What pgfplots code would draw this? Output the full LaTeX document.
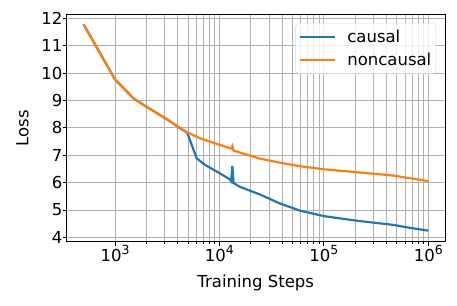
\documentclass[border=0pt]{standalone}
\usepackage{pgfplots}
\pgfplotsset{compat=1.18}
\usepackage{fontspec}
\setmainfont{DejaVu Sans}
\definecolor{mplblue}{HTML}{1F77B4}
\definecolor{mplorange}{HTML}{FF7F0E}
\newcommand\ex[1]{10\raisebox{7pt}{\fontsize{12.5}{14}\selectfont #1}}
\pgfplotstableread{
x y
500 11.78
1000 9.77
1500 9.08
2000 8.77
3130 8.32
4190 7.99
4920 7.84
6510 7.62
10100 7.38
12600 7.26
12950 7.25
13300 7.34
13650 7.17
15700 7.10
24400 6.88
38000 6.73
59100 6.60
100000 6.49
209000 6.38
464000 6.26
623000 6.18
1000000 6.06
}\noncausal
\pgfplotstableread{
x y
500 11.78
1000 9.77
1500 9.08
2000 8.77
3130 8.32
4190 7.99
4920 7.82
6050 6.89
7280 6.65
10100 6.34
12600 6.12
12950 6.06
13300 6.61
13650 5.99
15700 5.85
24400 5.57
38000 5.24
59100 4.98
100000 4.78
209000 4.61
464000 4.46
623000 4.37
1000000 4.25
}\causal
\begin{document}
\begin{tikzpicture}
\begin{semilogxaxis}[
  at={(0,0)}, anchor=south west,
  scale only axis, width=378.5pt, height=226.8pt,
  xmin=343.2, xmax=1445000, ymin=3.854, ymax=12.13,
  xtick={1000,10000,100000,1000000},
  xticklabels={\ex{3},\ex{4},\ex{5},\ex{6}},
  ytick={4,5,6,7,8,9,10,11,12},
  yticklabels={4,5,6,7,8,9,10,11,12},
  tick align=outside, tick pos=left,
  major tick length=4pt, minor tick length=2pt,
  every tick/.style={black, line width=0.8pt},
  grid=both,
  major grid style={draw=black!31, line width=0.9pt},
  minor grid style={draw=black!31, line width=0.9pt},
  axis line style={line width=0.9pt},
  tick label style={font=\fontsize{16.5}{19}\selectfont},
  yticklabel style={inner sep=0pt},
  xticklabel style={inner sep=0pt},
  xlabel={Training Steps}, ylabel={Loss},
  every axis x label/.style={at={(axis description cs:0.5,-0.2006)}, anchor=base, font=\fontsize{16.5}{19}\selectfont},
  every axis y label/.style={at={(axis description cs:-0.1009,0.5)}, rotate=90, anchor=base, font=\fontsize{16.5}{19}\selectfont},
  legend style={at={(1,1)}, anchor=north east, xshift=-9pt, yshift=-8.6pt,
    draw=black!15, rounded corners=3pt, fill=white, fill opacity=0.8, text opacity=1,
    font=\fontsize{16.5}{19}\selectfont, inner xsep=3pt, inner ysep=5pt,
    row sep=6pt,
    nodes={inner sep=1.5pt},
    /tikz/every odd column/.append style={column sep=10pt}},
  legend cell align=left,
  legend image code/.code={\draw[#1] (0pt,0pt) -- (35pt,0pt);},
]
\addplot[mplblue, line width=2.2pt] table[x=x,y=y] {\causal};
\addlegendentry{causal}
\addplot[mplorange, line width=2.2pt] table[x=x,y=y] {\noncausal};
\addlegendentry{noncausal}
\end{semilogxaxis}
\pgfresetboundingbox
\path[use as bounding box] (-66.5pt,-63.5pt) rectangle (390.5pt,241.5pt);
\end{tikzpicture}
\end{document}
